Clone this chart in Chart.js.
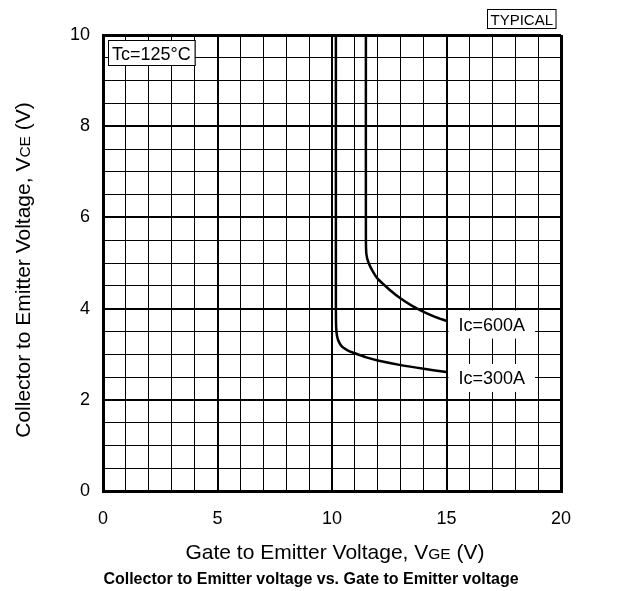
<!DOCTYPE html>
<html>
<head>
<meta charset="utf-8">
<script src="https://cdn.jsdelivr.net/npm/chart.js@4.4.1/dist/chart.umd.min.js"></script>
<style>
  html, body { margin: 0; padding: 0; background: #fff; }
  #wrap { width: 622px; height: 591px; position: relative; }
</style>
</head>
<body>
<div id="wrap"><canvas id="c" width="622" height="591"></canvas></div>
<script>
// ---- Data ----
const vge300 = [10.17, 10.17, 10.18, 10.22, 10.3, 10.45, 10.7, 11, 11.5, 12, 13, 14, 15];
const vce300 = [10, 4.2, 3.6, 3.4, 3.27, 3.16, 3.08, 3.02, 2.93, 2.86, 2.76, 2.68, 2.61];
const vge600 = [11.48, 11.48, 11.5, 11.6, 11.8, 12.0, 12.5, 13.0, 13.5, 14.0, 14.5, 15];
const vce600 = [10, 5.6, 5.2, 5.0, 4.8, 4.65, 4.42, 4.22, 4.06, 3.93, 3.82, 3.73];
const seriesNames = ['Ic=600A', 'Ic=300A'];
const labelAnchors = [[15, 3.65], [15, 2.48]]; // where curve labels sit
const xTickLabels = [0, 5, 10, 15, 20];
const yTickLabels = [0, 2, 4, 6, 8, 10];

const FONT = '"Liberation Sans", Arial, Helvetica, sans-serif';

function toPts(xs, ys) { return xs.map((x, i) => ({ x: x, y: ys[i] })); }

function drawMixed(ctx, parts, x, y, align) {
  let total = 0;
  parts.forEach(p => { ctx.font = p[1] + 'px ' + FONT; total += ctx.measureText(p[0]).width; });
  let cx = align === 'center' ? x - total / 2 : x;
  ctx.textAlign = 'left';
  ctx.textBaseline = 'alphabetic';
  parts.forEach(p => { ctx.font = p[1] + 'px ' + FONT; ctx.fillText(p[0], cx, y); cx += ctx.measureText(p[0]).width; });
}

const annotations = {
  id: 'annotations',
  afterDatasetsDraw(chart) {
    const ctx = chart.ctx;
    const xs = chart.scales.x, ys = chart.scales.y;
    const area = chart.chartArea;
    ctx.save();
    ctx.fillStyle = '#000';
    ctx.strokeStyle = '#000';
    ctx.lineWidth = 1;
    // curve labels with white background
    ctx.font = '18px ' + FONT;
    seriesNames.forEach((name, i) => {
      const px = xs.getPixelForValue(labelAnchors[i][0]) + 12;
      const py = ys.getPixelForValue(labelAnchors[i][1]);
      const w = ctx.measureText(name).width;
      ctx.fillStyle = '#fff';
      ctx.fillRect(px - 10, py - 14, w + 20, 28);
      ctx.fillStyle = '#000';
      ctx.textAlign = 'left';
      ctx.textBaseline = 'alphabetic';
      ctx.fillText(name, px, py + 6.5);
    });
    // Tc box
    ctx.font = '18px ' + FONT;
    const tc = 'Tc=125°C';
    const tw = ctx.measureText(tc).width;
    const bx = area.left + 5, by = area.top + 5;
    ctx.fillStyle = '#fff';
    ctx.fillRect(bx, by, tw + 8, 25);
    ctx.strokeRect(bx + 0.5, by + 0.5, tw + 8, 25);
    ctx.fillStyle = '#000';
    ctx.fillText(tc, bx + 4, by + 20);
    // TYPICAL box
    ctx.font = '15px ' + FONT;
    const ty = 'TYPICAL';
    const yw = ctx.measureText(ty).width;
    const rx = area.right - 5;
    ctx.strokeRect(Math.round(rx - yw - 6) + 0.5, 9.5, yw + 6, 19);
    ctx.fillText(ty, rx - yw - 3, 25);
    // axis titles
    ctx.fillStyle = '#000';
    const cxp = (area.left + area.right) / 2 + 3;
    drawMixed(ctx, [['Gate to Emitter Voltage, V', 21], ['GE', 15.5], [' (V)', 21]], cxp, 559, 'center');
    ctx.save();
    ctx.translate(30, (area.top + area.bottom) / 2 + 7);
    ctx.rotate(-Math.PI / 2);
    drawMixed(ctx, [['Collector to Emitter Voltage, V', 21], ['CE', 15.5], [' (V)', 21]], 0, 0, 'center');
    ctx.restore();
    // chart title
    ctx.font = 'bold 16px ' + FONT;
    ctx.textAlign = 'center';
    ctx.textBaseline = 'alphabetic';
    ctx.fillText('Collector to Emitter voltage vs. Gate to Emitter voltage', chart.width / 2, 584);
    ctx.restore();
  }
};

new Chart(document.getElementById('c'), {
  type: 'scatter',
  data: {
    datasets: [
      { label: seriesNames[0], data: toPts(vge600, vce600), showLine: true, borderColor: '#000', borderWidth: 2.5, pointRadius: 0, tension: 0.25, fill: false },
      { label: seriesNames[1], data: toPts(vge300, vce300), showLine: true, borderColor: '#000', borderWidth: 2.5, pointRadius: 0, tension: 0.25, fill: false }
    ]
  },
  options: {
    responsive: false,
    animation: false,
    layout: { padding: { left: 0, top: 35, right: 61, bottom: 0 } },
    plugins: { legend: { display: false }, title: { display: false }, tooltip: { enabled: false } },
    scales: {
      x: {
        type: 'linear', min: 0, max: 20,
        afterFit(s) { s.height = 100; },
        grid: {
          drawTicks: false,
          color: '#000',
          lineWidth: (c) => {
            const v = c.tick ? c.tick.value : 0;
            if (v === 0 || v === 20) return 3;
            return v % 5 === 0 ? 2 : 1;
          }
        },
        border: { display: true, color: '#000', width: 3 },
        ticks: {
          stepSize: 1, autoSkip: false, maxRotation: 0, padding: 17,
          color: '#000', font: { family: FONT, size: 18 },
          callback: (v) => xTickLabels.includes(v) ? String(v) : ''
        }
      },
      y: {
        type: 'linear', min: 0, max: 10,
        afterFit(s) { s.width = 103; },
        grid: {
          drawTicks: false,
          color: '#000',
          lineWidth: (c) => {
            const v = c.tick ? c.tick.value : 0;
            if (v === 0 || v === 10) return 3;
            return v % 2 === 0 ? 2 : 1;
          }
        },
        border: { display: true, color: '#000', width: 3 },
        ticks: {
          stepSize: 0.5, autoSkip: false, padding: 13,
          color: '#000', font: { family: FONT, size: 18 },
          callback: (v) => yTickLabels.includes(v) ? String(v) : ''
        }
      }
    }
  },
  plugins: [annotations]
});
</script>
</body>
</html>
